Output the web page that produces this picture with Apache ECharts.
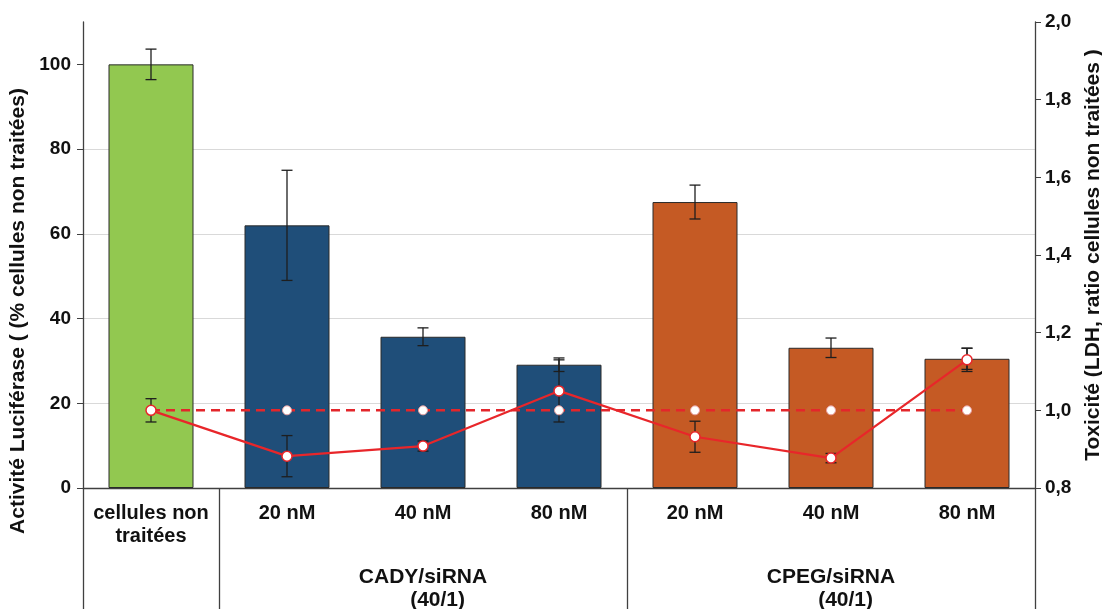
<!DOCTYPE html>
<html>
<head>
<meta charset="utf-8">
<script src="https://cdn.jsdelivr.net/npm/echarts@6/dist/echarts.min.js"></script>
<style>html,body{margin:0;padding:0;background:#fff;}#c{width:1102px;height:609px;}</style>
</head>
<body>
<div id="c"></div>
<script>
const categories = ['cellules non\ntraitées', '20 nM', '40 nM', '80 nM', '20 nM', '40 nM', '80 nM'];
const groupLabels = ['', '', 'CADY/siRNA\n     (40/1)', '', '', 'CPEG/siRNA\n     (40/1)', ''];
const activite = [100, 62, 35.7, 29.1, 67.5, 33.1, 30.5];
const activiteErr = [3.6, 13, 2.1, 1.6, 4, 2.3, 2.5];
const toxicite = [1.0, 0.882, 0.908, 1.05, 0.932, 0.877, 1.13];
const toxiciteErr = [0.03, 0.053, 0.013, 0.08, 0.04, 0.012, 0.03];
const toxiciteRef = [1, 1, 1, 1, 1, 1, 1];
const leftTicks = [0, 20, 40, 60, 80, 100];
const barColors = ['#92c850', '#1f4e79', '#1f4e79', '#1f4e79', '#c55a24', '#c55a24', '#c55a24'];

const FONT = 'Liberation Sans, Arial, sans-serif';
const chart = echarts.init(document.getElementById('c'), null, {renderer: 'canvas'});

function errorRender(params, api) {
  const x = api.value(0), y = api.value(1), e = api.value(2);
  const top = api.coord([x, y + e]);
  const bot = api.coord([x, y - e]);
  const hw = 5.5;
  const st = {stroke: '#1e1e1e', lineWidth: 1.3};
  return {type: 'group', children: [
    {type: 'line', shape: {x1: top[0], y1: top[1], x2: bot[0], y2: bot[1]}, style: st},
    {type: 'line', shape: {x1: top[0] - hw, y1: top[1], x2: top[0] + hw, y2: top[1]}, style: st},
    {type: 'line', shape: {x1: bot[0] - hw, y1: bot[1], x2: bot[0] + hw, y2: bot[1]}, style: st}
  ]};
}

const boundaryTicks = [0, 1, 4];

chart.setOption({
  animation: false,
  backgroundColor: '#fff',
  grid: {left: 83, right: 67, top: 22, bottom: 121, containLabel: false, outerBoundsMode: 'none'},
  xAxis: [{
    type: 'category',
    data: categories,
    boundaryGap: true,
    axisLine: {lineStyle: {color: '#404040', width: 1.3}},
    axisTick: {show: true, length: 121, lineStyle: {color: '#404040', width: 1.3},
      interval: function (i) { return boundaryTicks.indexOf(i) >= 0; }},
    axisLabel: {interval: 0, margin: 14, color: '#111', fontFamily: FONT, fontWeight: 'bold', fontSize: 20, lineHeight: 23}
  }, {
    type: 'category',
    data: groupLabels,
    position: 'bottom',
    axisLine: {show: false},
    axisTick: {show: false},
    axisLabel: {interval: 0, margin: 78, color: '#111', fontFamily: FONT, fontWeight: 'bold', fontSize: 21, lineHeight: 23}
  }],
  yAxis: [{
    type: 'value',
    min: 0, max: 110, interval: 20,
    name: 'Activité Luciférase ( (% cellules non traitées)',
    nameLocation: 'middle',
    nameGap: 54,
    nameTextStyle: {color: '#111', fontFamily: FONT, fontWeight: 'bold', fontSize: 21, padding: [0, 112, 0, 0]},
    axisLine: {show: true, lineStyle: {color: '#404040', width: 1.3}},
    axisTick: {show: true, length: 6, customValues: leftTicks, lineStyle: {color: '#404040'}},
    axisLabel: {customValues: leftTicks, margin: 12, color: '#111', fontFamily: FONT, fontWeight: 'bold', fontSize: 19},
    splitLine: {show: true, showMinLine: false, showMaxLine: false, lineStyle: {color: '#d9d9d9', width: 1}}
  }, {
    type: 'value',
    min: 0.8, max: 2.0, interval: 0.2,
    position: 'right',
    name: 'Toxicité (LDH, ratio cellules non traitées )',
    nameLocation: 'middle',
    nameGap: 46,
    nameRotate: 90,
    nameTextStyle: {color: '#111', fontFamily: FONT, fontWeight: 'bold', fontSize: 21},
    axisLine: {show: true, lineStyle: {color: '#404040', width: 1.3}},
    axisTick: {show: true, length: 6, lineStyle: {color: '#404040'}},
    axisLabel: {margin: 10, color: '#111', fontFamily: FONT, fontWeight: 'bold', fontSize: 19,
      formatter: function (v) { return v.toFixed(1).replace('.', ','); }},
    splitLine: {show: false}
  }],
  series: [{
    type: 'bar',
    xAxisIndex: 0, yAxisIndex: 0,
    barWidth: '62.5%',
    data: activite.map(function (v, i) { return {value: v, itemStyle: {color: barColors[i]}}; }),
    itemStyle: {borderColor: '#2a2a2a', borderWidth: 1},
    z: 2
  }, {
    type: 'custom',
    xAxisIndex: 0, yAxisIndex: 0,
    renderItem: errorRender,
    data: activite.map(function (v, i) { return [i, v, activiteErr[i]]; }),
    z: 3
  }, {
    type: 'custom',
    xAxisIndex: 0, yAxisIndex: 1,
    renderItem: errorRender,
    data: toxicite.map(function (v, i) { return [i, v, toxiciteErr[i]]; }),
    z: 3
  }, {
    type: 'line',
    xAxisIndex: 0, yAxisIndex: 1,
    data: toxiciteRef,
    lineStyle: {color: '#e3262b', width: 2.5, type: [9, 6]},
    symbol: 'circle', symbolSize: 9,
    itemStyle: {color: '#ffffff', borderColor: '#e8a0a0', borderWidth: 1},
    z: 4
  }, {
    type: 'line',
    xAxisIndex: 0, yAxisIndex: 1,
    data: toxicite,
    lineStyle: {color: '#e8262a', width: 2.2},
    symbol: 'circle', symbolSize: 10,
    itemStyle: {color: '#ffffff', borderColor: '#e8262a', borderWidth: 1.5},
    z: 5
  }]
});
</script>
</body>
</html>
